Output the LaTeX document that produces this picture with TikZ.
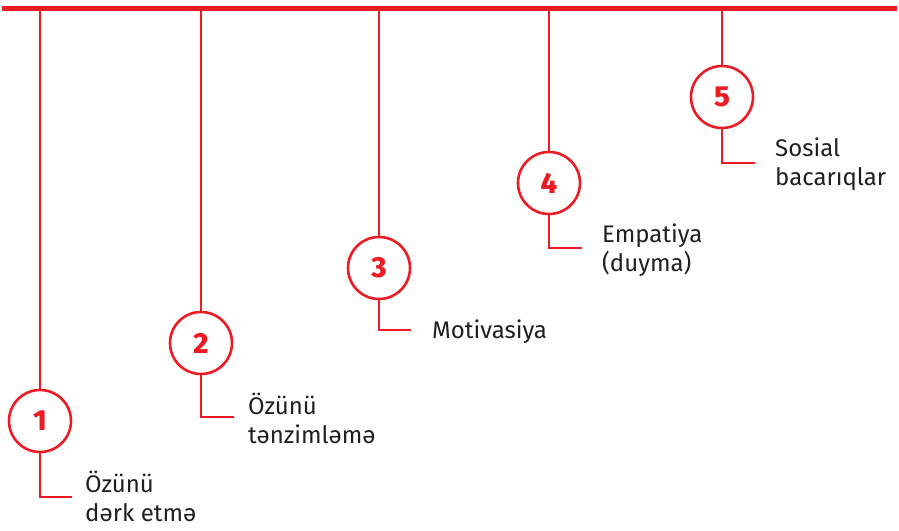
\documentclass[tikz,border=0pt]{standalone}
\usepackage{fontspec}
\setmainfont{Fira Sans}
\newfontface\numfont{Fira Sans ExtraBold}
\definecolor{tred}{RGB}{237,28,36}
\definecolor{ttext}{RGB}{35,31,32}
\begin{document}
\begin{tikzpicture}[x=1pt,y=-1pt,
  bar/.style={draw=tred,line width=5pt},
  stem/.style={draw=tred,line width=2.6pt},
  num/.style={circle,draw=tred,line width=2.6pt,minimum size=62pt,inner sep=0pt,text=tred,font=\fontsize{29}{29}\numfont},
  lab/.style={anchor=west,align=left,inner sep=0pt,text=ttext,font=\fontsize{24}{29}\selectfont}]
\useasboundingbox (0,0) rectangle (899,530);
\coordinate (L) at (2,8);
\coordinate (R) at (897,8);
\draw[bar] (L) -- (R);
\node[num] (c1) at (40,421) {1};
\node[num] (c2) at (201,343) {2};
\node[num] (c3) at (379,268) {3};
\node[num] (c4) at (549,183) {4};
\node[num] (c5) at (722,97) {5};
\coordinate (t1) at (40,8);
\coordinate (t2) at (201,8);
\coordinate (t3) at (379,8);
\coordinate (t4) at (549,8);
\coordinate (t5) at (722,8);
\draw[stem] (t1) -- (c1.north);
\draw[stem] (t2) -- (c2.north);
\draw[stem] (t3) -- (c3.north);
\draw[stem] (t4) -- (c4.north);
\draw[stem] (t5) -- (c5.north);
\coordinate (e1) at (72,497);
\coordinate (e2) at (234,417);
\coordinate (e3) at (411,330);
\coordinate (e4) at (582,248);
\coordinate (e5) at (755,163);
\draw[stem] (c1.south) |- (e1);
\draw[stem] (c2.south) |- (e2);
\draw[stem] (c3.south) |- (e3);
\draw[stem] (c4.south) |- (e4);
\draw[stem] (c5.south) |- (e5);
\node[lab] (l1) at (85,496) {Özünü\\dərk etmə};
\node[lab] (l2) at (248,418) {Özünü\\tənzimləmə};
\node[lab] (l3) at (432,332) {Motivasiya};
\node[lab] (l4) at (602,250) {Empatiya\\(duyma)};
\node[lab] (l5) at (775,164) {Sosial\\bacarıqlar};
\end{tikzpicture}
\end{document}
